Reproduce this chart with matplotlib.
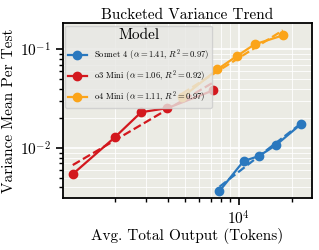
import numpy as np
import matplotlib
matplotlib.use("Agg")
import matplotlib.pyplot as plt

# %% data
models = ["Sonnet 4", "o3 Mini", "o4 Mini"]
alphas = [1.41, 1.06, 1.11]
r2s = [0.97, 0.92, 0.97]
colors = ["#2a78be", "#d3181e", "#fba41a"]

sonnet_x = [7800, 10670, 13000, 16230, 22490]
sonnet_y = [0.00368, 0.0074, 0.0083, 0.0107, 0.01746]
o3_x = [1155, 2000, 2812, 3953, 7211]
o3_y = [0.00546, 0.0129, 0.0231, 0.0254, 0.0385]
o4_x = [4808, 7600, 9740, 12330, 17780]
o4_y = [0.0327, 0.0628, 0.0850, 0.1123, 0.1383]

xs = [sonnet_x, o3_x, o4_x]
ys = [sonnet_y, o3_y, o4_y]

# %% style
plt.rcParams["font.family"] = "serif"
plt.rcParams["font.serif"] = ["cmr10"]
plt.rcParams["mathtext.fontset"] = "cm"
plt.rcParams["axes.formatter.use_mathtext"] = True

fig = plt.figure(figsize=(3.19, 2.5), dpi=100)
ax = fig.add_axes([0.197, 0.208, 0.781, 0.70])
ax.set_facecolor("#ebebe4")

for name, a, r2, c, x, y in zip(models, alphas, r2s, colors, xs, ys):
    lx = np.log10(x)
    ly = np.log10(y)
    k, b = np.polyfit(lx, ly, 1)
    fx = np.array([lx.min(), lx.max()])
    ax.plot(10 ** fx, 10 ** (k * fx + b), "--", color=c, lw=1.6, zorder=3)
    ax.plot(x, y, "-o", color=c, lw=1.6, ms=6,
            label=r"%s ($\alpha=%.2f$, $R^2=%.2f$)" % (name, a, r2), zorder=4)

ax.set_xscale("log")
ax.set_yscale("log")
ax.set_xlim(1015, 26000)
ax.set_ylim(0.00313, 0.1846)

ax.grid(True, which="major", color="white", lw=1.2)
ax.grid(True, which="minor", color="white", lw=0.6)
ax.set_axisbelow(True)

for s in ax.spines.values():
    s.set_linewidth(1.3)
    s.set_color("black")
ax.tick_params(which="major", length=5, width=1.2, labelsize=11, direction="out")
ax.tick_params(which="minor", length=3, width=1.0, direction="out")
ax.tick_params(axis="x", which="minor", labelbottom=False)
ax.tick_params(axis="y", which="minor", labelleft=False)

ax.set_title("Bucketed Variance Trend", fontsize=11, pad=3)
ax.set_xlabel("Avg. Total Output (Tokens)", fontsize=11, labelpad=0)
ax.set_ylabel("Variance Mean Per Test", fontsize=11, labelpad=3)

leg = ax.legend(loc="upper left", title="Model", fontsize=6.2, title_fontsize=11,
                frameon=True, fancybox=True, framealpha=0.8, borderpad=0.3,
                handlelength=2.2, labelspacing=0.7, borderaxespad=0.3)
leg.get_frame().set_facecolor("#e8e8e4")
leg.get_frame().set_edgecolor("#cccccc")

fig.savefig("out.png", dpi=100)
